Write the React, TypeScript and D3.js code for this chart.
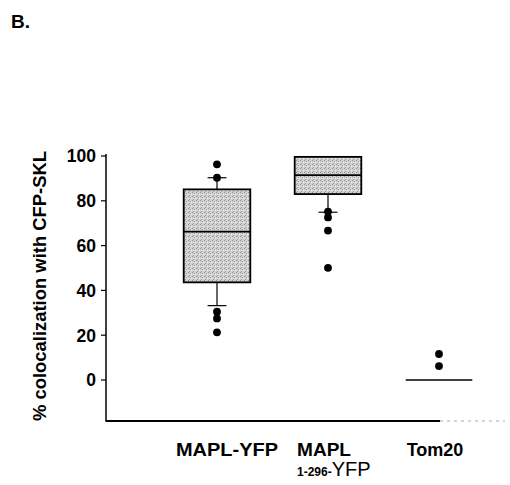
import React from "react";
import * as d3 from "d3";

const categories = ["MAPL-YFP", "MAPL 1-296-YFP", "Tom20"];
const q1 = [43.6, 83, 0];
const medians = [66.2, 91.5, 0];
const q3 = [85.1, 99.6, 0];
const whiskerLow = [33.2, 74.9, 0];
const whiskerHigh = [90.3, 99.6, 0];
const outliers = [
  [96.3, 90.3, 30.5, 27.5, 21.3],
  [75.2, 72.6, 66.7, 50.1],
  [11.6, 6.2],
];
const yTicks = [0, 20, 40, 60, 80, 100];

const W = 510;
const H = 485;

export default function App() {
  const y = d3.scaleLinear().domain([-18.3, 100]).range([421, 156]);
  const x = d3.scaleBand<string>().domain(categories).range([161.5, 494.5]).padding(0);
  const cx = (c: string) => (x(c) as number) + x.bandwidth() / 2;
  const boxW = x.bandwidth() * 0.6;
  const capW = x.bandwidth() * 0.17;
  const font = "'Liberation Sans', Arial, sans-serif";

  return (
    <svg width={W} height={H} style={{ position: "absolute", left: 0, top: 0, background: "#fff" }}>
      <defs>
        <pattern id="stip" width="4" height="4" patternUnits="userSpaceOnUse">
          <rect width="4" height="4" fill="#d2d2d2" />
          <rect x="0" y="0" width="1" height="1" fill="#8f8f8f" />
          <rect x="2" y="1" width="1" height="1" fill="#a8a8a8" />
          <rect x="1" y="3" width="1" height="1" fill="#9c9c9c" />
          <rect x="3" y="2" width="1" height="1" fill="#eeeeee" />
        </pattern>
      </defs>
      <text x={11} y={28} fontFamily={font} fontWeight="bold" fontSize={19}>B.</text>

      {/* axes */}
      <line x1={106} x2={106} y1={y(100) - 2} y2={421} stroke="#000" strokeWidth={1.5} />
      <line x1={105.5} x2={440} y1={421} y2={421} stroke="#000" strokeWidth={1.8} />
      <line x1={440} x2={505} y1={421} y2={421} stroke="#aaa" strokeWidth={1} strokeDasharray="3 4" />
      {yTicks.map((t) => (
        <g key={t}>
          <line x1={101} x2={106} y1={y(t)} y2={y(t)} stroke="#000" strokeWidth={1.2} />
          <text x={96} y={y(t)} dy="0.36em" textAnchor="end" fontFamily={font} fontWeight="bold" fontSize={17.5}>
            {t}
          </text>
        </g>
      ))}
      <text
        transform={`translate(46,286) rotate(-90)`}
        textAnchor="middle"
        fontFamily={font}
        fontWeight="bold"
        fontSize={18}
        textLength={270}
        lengthAdjust="spacingAndGlyphs"
      >
        % colocalization with CFP-SKL
      </text>

      {/* boxes */}
      {categories.map((c, i) => {
        const xc = cx(c);
        const flat = q3[i] - q1[i] < 0.5;
        return (
          <g key={c}>
            {whiskerHigh[i] > q3[i] + 0.5 && (
              <>
                <line x1={xc} x2={xc} y1={y(q3[i])} y2={y(whiskerHigh[i])} stroke="#000" strokeWidth={1.2} />
                <line x1={xc - capW / 2} x2={xc + capW / 2} y1={y(whiskerHigh[i])} y2={y(whiskerHigh[i])} stroke="#000" strokeWidth={1.2} />
              </>
            )}
            {whiskerLow[i] < q1[i] - 0.5 && (
              <>
                <line x1={xc} x2={xc} y1={y(q1[i])} y2={y(whiskerLow[i])} stroke="#000" strokeWidth={1.2} />
                <line x1={xc - capW / 2} x2={xc + capW / 2} y1={y(whiskerLow[i])} y2={y(whiskerLow[i])} stroke="#000" strokeWidth={1.2} />
              </>
            )}
            {flat ? (
              <line x1={xc - boxW / 2} x2={xc + boxW / 2} y1={y(medians[i])} y2={y(medians[i])} stroke="#000" strokeWidth={1.4} />
            ) : (
              <>
                <rect
                  x={xc - boxW / 2}
                  y={y(q3[i])}
                  width={boxW}
                  height={y(q1[i]) - y(q3[i])}
                  fill="url(#stip)"
                  stroke="#000"
                  strokeWidth={1.8}
                />
                <line x1={xc - boxW / 2} x2={xc + boxW / 2} y1={y(medians[i])} y2={y(medians[i])} stroke="#000" strokeWidth={1.8} />
              </>
            )}
            {outliers[i].map((v, j) => (
              <circle key={j} cx={xc} cy={y(v)} r={3.9} fill="#000" />
            ))}
          </g>
        );
      })}

      {/* x labels */}
      <text x={cx(categories[0]) + 10} y={456} textAnchor="middle" fontFamily={font} fontWeight="bold" fontSize={18} textLength={102} lengthAdjust="spacingAndGlyphs">
        MAPL-YFP
      </text>
      <text x={297} y={456} fontFamily={font} fontWeight="bold" fontSize={18} textLength={54} lengthAdjust="spacingAndGlyphs">
        MAPL
      </text>
      <text x={297} y={476} fontFamily={font} fontWeight="bold">
        <tspan fontSize={12}>1-296-</tspan>
        <tspan fontSize={20} fontWeight="normal">YFP</tspan>
      </text>
      <text x={cx(categories[2]) - 4} y={456} textAnchor="middle" fontFamily={font} fontWeight="bold" fontSize={18}>
        Tom20
      </text>
    </svg>
  );
}
